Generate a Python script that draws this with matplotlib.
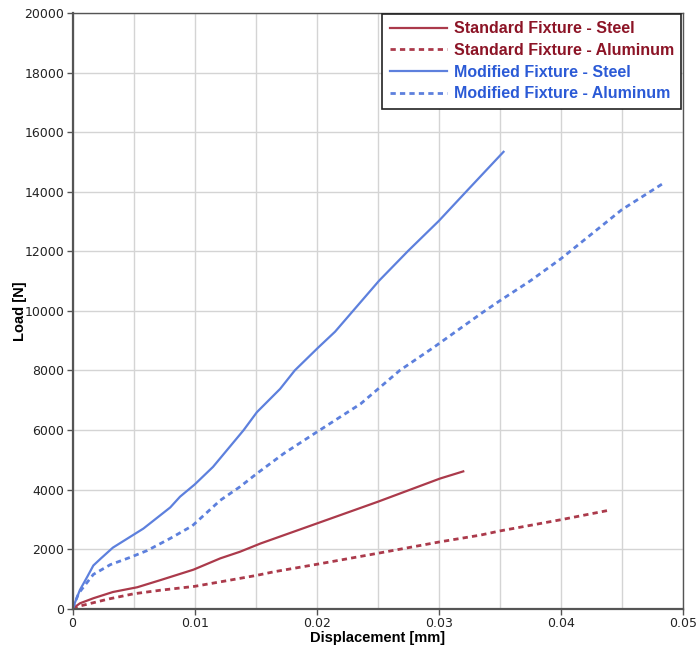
import matplotlib
matplotlib.use("Agg")
import matplotlib.pyplot as plt
from matplotlib.ticker import MultipleLocator

# Standard fixture - steel
std_steel_x = [0, 0.0006, 0.0017, 0.0033, 0.0053, 0.0072, 0.0099, 0.0121, 0.0137,
               0.0154, 0.0200, 0.0250, 0.0301, 0.0320]
std_steel_y = [0, 180, 350, 560, 720, 960, 1310, 1690, 1910,
               2190, 2860, 3590, 4370, 4610]

# Standard fixture - aluminum
std_alu_x = [0, 0.0006, 0.0017, 0.0030, 0.0050, 0.0072, 0.0100, 0.0125, 0.0151,
             0.0165, 0.0200, 0.0250, 0.0301, 0.0334, 0.0350, 0.0401, 0.0440]
std_alu_y = [0, 90, 200, 330, 500, 620, 750, 930, 1120,
             1240, 1490, 1860, 2245, 2470, 2610, 2995, 3310]

# Modified fixture - steel
mod_steel_x = [0, 0.0006, 0.0012, 0.0017, 0.0023, 0.0033, 0.0058, 0.0080, 0.0088,
               0.0100, 0.0115, 0.0140, 0.0151, 0.0170, 0.0182, 0.0201, 0.0215,
               0.0251, 0.0275, 0.0300, 0.0323, 0.0353]
mod_steel_y = [0, 630, 1070, 1450, 1680, 2050, 2690, 3400, 3760,
               4170, 4760, 5990, 6600, 7380, 8000, 8760, 9300,
               11010, 12020, 13020, 14030, 15340]

# Modified fixture - aluminum
mod_alu_x = [0, 0.0005, 0.0017, 0.0031, 0.0047, 0.0061, 0.0080, 0.0098, 0.0121,
             0.0137, 0.0151, 0.0173, 0.0200, 0.0236, 0.0268, 0.0296, 0.0336,
             0.0350, 0.0375, 0.0400, 0.0450, 0.0483]
mod_alu_y = [0, 520, 1150, 1480, 1720, 1950, 2360, 2780, 3640,
             4090, 4540, 5210, 5930, 6880, 8000, 8780, 9950,
             10340, 11010, 11750, 13400, 14260]

red = '#ab3a4b'
blue = '#5d80dd'
red_text = '#8c1426'
blue_text = '#2b5ad6'

fig = plt.figure(figsize=(6.98, 6.51), dpi=100)
ax = fig.add_axes([0.104, 0.065, 0.8745, 0.915])

dots = (0, (1.9, 1.5))
ax.plot(std_steel_x, std_steel_y, color=red, lw=1.6, label='Standard Fixture - Steel')
ax.plot(std_alu_x, std_alu_y, color=red, lw=2.0, ls=dots, label='Standard Fixture - Aluminum')
ax.plot(mod_steel_x, mod_steel_y, color=blue, lw=1.6, label='Modified Fixture - Steel')
ax.plot(mod_alu_x, mod_alu_y, color=blue, lw=2.0, ls=dots, label='Modified Fixture - Aluminum')

ax.set_xlim(0, 0.05)
ax.set_ylim(0, 20000)
ax.xaxis.set_minor_locator(MultipleLocator(0.005))
ax.yaxis.set_major_locator(MultipleLocator(2000))
ax.set_xticks([0, 0.01, 0.02, 0.03, 0.04, 0.05])
ax.set_xticklabels(['0', '0.01', '0.02', '0.03', '0.04', '0.05'])

ax.grid(True, which='both', axis='x', color='#d4d4d4', lw=1)
ax.grid(True, which='major', axis='y', color='#d4d4d4', lw=1)
ax.set_axisbelow(True)
ax.tick_params(which='major', direction='out', length=4, width=1, color='#555555',
               labelsize=9, labelcolor='#222222', pad=2)
ax.tick_params(which='minor', length=0)
for name, sp in ax.spines.items():
    sp.set_color('#555555')
    sp.set_linewidth(1.6 if name in ('left', 'bottom') else 1.0)

ax.set_xlabel('Displacement [mm]', fontsize=10.5, fontweight='bold',
              family='Liberation Sans', labelpad=1)
ax.set_ylabel('Load [N]', fontsize=10.5, fontweight='bold',
              family='Liberation Sans', labelpad=-2)

leg = ax.legend(loc='upper right', bbox_to_anchor=(681 / 698, 1 - 14 / 651),
                bbox_transform=fig.transFigure, borderaxespad=0, fancybox=False,
                framealpha=1, edgecolor='#222222', handlelength=3.6,
                handletextpad=0.4, labelspacing=0.42, borderpad=0.45,
                prop={'family': 'Liberation Sans', 'size': 11.5, 'weight': 'bold'})
leg.get_frame().set_linewidth(1.2)
for txt, c in zip(leg.get_texts(), [red_text, red_text, blue_text, blue_text]):
    txt.set_color(c)

fig.savefig('out.png', dpi=100)
